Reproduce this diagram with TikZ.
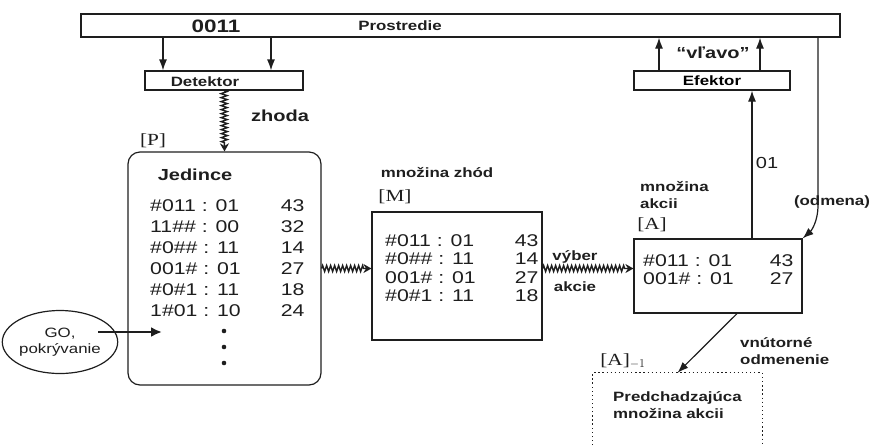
\documentclass[tikz,border=0pt]{standalone}
\usepackage{fontspec}
\setmainfont{Liberation Sans}[FakeStretch=1.25]
\newfontfamily\brfont{Liberation Serif}[FakeStretch=1.25]
\usetikzlibrary{arrows.meta,positioning,calc,decorations.pathmorphing,shapes.geometric}
\definecolor{ink}{HTML}{1E1E1E}
\newcommand{\labsz}{\fontsize{13.5}{16.5}\selectfont\bfseries}
\newcommand{\bigsz}{\fontsize{16}{18}\selectfont\bfseries}
\tikzset{
  box/.style={draw=ink, line width=1.2pt, inner sep=0pt},
  lab/.style={font=\labsz, text=ink, inner sep=0pt, align=left},
  big/.style={font=\bigsz, text=ink, inner sep=0pt},
  brk/.style={font=\brfont\fontsize{17}{20}\selectfont, text=ink, inner sep=0pt},
  rows/.style={text=ink, inner sep=0pt, anchor=north west},
  arr/.style={-{Latex[length=11pt,width=8pt]}, line width=1.2pt, draw=ink},
  wavy/.style={-{Stealth[length=8pt,width=9pt]}, line width=1.4pt, draw=ink, decorate,
               decoration={zigzag, segment length=4pt, amplitude=3pt, post length=7pt}},
  dotbox/.style={draw=ink, line width=1.3pt, dash pattern=on 1.3pt off 2.8pt}}

\begin{document}
\begin{tikzpicture}[x=1pt,y=-1pt]
  \useasboundingbox (0,0) rectangle (872,445);

  % prostredie, detektor, efektor
  \node[box, minimum width=759pt, minimum height=23pt] (env) at (460.5,25.5) {};
  \node[font=\fontsize{18}{20}\selectfont\bfseries, text=ink] (state) at (216,26) {0011};
  \node[lab] (envname) at (400,26) {Prostredie};
  \node[box, minimum width=158pt, minimum height=19pt] (det) at (224,80.5) {};
  \node[lab] (detname) at (205,82) {Detektor};
  \node[box, minimum width=156pt, minimum height=19pt, font=\labsz] (eff) at (712,80.5) {Efektor};
  \node[big] (cmd) at (713,53) {``vľavo''};
  \foreach \dx/\nm in {-61/a,47/b} {
    \coordinate (in\nm) at ($(det.north)+(\dx,0)$);
    \draw[arr] (in\nm |- env.south) -- (in\nm);
  }
  \foreach \dx/\nm in {-53/a,48/b} {
    \coordinate (out\nm) at ($(eff.north)+(\dx,0)$);
    \draw[arr] (out\nm) -- (out\nm |- env.south);
  }

  % populacia [P]
  \node[box, rounded corners=12pt, minimum width=193pt, minimum height=233pt] (pbox) at (224.5,268.5) {};
  \node[brk] (plab) at (153,141) {[P]};
  \node[big] (ptitle) at (195,175) {Jedince};
  \node[rows, font=\fontsize{17}{21}\selectfont] (prows) at (150,196.3) {%
    \begin{tabular}{@{}l@{\hspace{40pt}}r@{}}
      \#011 : 01 & 43\\ 11\#\# : 00 & 32\\ \#0\#\# : 11 & 14\\
      001\# : 01 & 27\\ \#0\#1 : 11 & 18\\ 1\#01 : 10 & 24
    \end{tabular}};
  \foreach \y in {331,347,363} \fill[ink] (224,\y) circle (2.3);
  \node[big] (zh) at (280,116) {zhoda};
  \draw[wavy] (det.south) -- (pbox.north);

  % GO
  \node[ellipse, draw=ink, line width=1.2pt, minimum width=96pt, minimum height=63pt, inner sep=0pt,
        font=\fontsize{13.5}{16.5}\selectfont, text=ink, align=center] (go) at (60,342) {GO,\\pokrývanie};
  \coordinate (goin) at (162,332);
  \draw[-{Latex[length=11pt,width=10pt]}, line width=2.4pt, draw=ink] ($(go.east)+(-20,-10)$) -- (goin);

  % mnozina zhod [M]
  \node[box, minimum width=170pt, minimum height=128pt] (mset) at (457,276) {};
  \node[lab] (mtitle) at (437,173) {množina zhód};
  \node[brk] (mlab) at (395,197) {[M]};
  \node[rows, font=\fontsize{17}{18.5}\selectfont] (mrows) at (385,233) {%
    \begin{tabular}{@{}l@{\hspace{39pt}}r@{}}
      \#011 : 01 & 43\\ \#0\#\# : 11 & 14\\ 001\# : 01 & 27\\ \#0\#1 : 11 & 18
    \end{tabular}};
  \draw[wavy] (pbox.east) -- (pbox.east -| mset.west);

  % mnozina akcii [A]
  \node[box, minimum width=168pt, minimum height=74pt] (act) at (718,276) {};
  \node[lab, anchor=west] (atitle) at (640,195) {množina\\akcii};
  \node[brk] (alab) at (652,225) {[A]};
  \node[rows, font=\fontsize{17}{18.5}\selectfont] (arows) at (643,253) {%
    \begin{tabular}{@{}l@{\hspace{36pt}}r@{}}
      \#011 : 01 & 43\\ 001\# : 01 & 27
    \end{tabular}};
  \node[lab] (sel1) at (575,257) {výber};
  \node[lab] (sel2) at (575,287) {akcie};
  \draw[wavy] (mset.east |- pbox.east) -- (act.west |- pbox.east);

  % akcia do efektora, odmena
  \coordinate (outc) at ($(act.north)+(34,0)$);
  \draw[arr] (outc) -- (outc |- eff.south);
  \node[font=\fontsize{16}{18}\selectfont, text=ink] (sig) at (767,163) {01};
  \coordinate (bend) at (818,205);
  \draw[arr] (env.south -| bend) -- (bend) .. controls (818,222) and (811,231) .. (act.north east);
  \node[lab] (rew) at (832,202) {(odmena)};

  % predchadzajuca mnozina [A]_-1
  \node[minimum width=169pt, minimum height=72pt, inner sep=0pt] (prev) at (677.5,409) {};
  \draw[dotbox] (prev.south west) -- (prev.north west) -- (prev.north east) -- (prev.south east);
  \node[lab, anchor=west] (prevtxt) at (613,405) {Predchadzajúca\\množina akcii};
  \node[brk] (prevlab) at (623,361) {[A]$_{-1}$};
  \draw[arr] ($(act.south)+(19,0)$) -- (prev.north);
  \node[lab, anchor=west] (inner) at (740,351) {vnútorné\\odmenenie};
\end{tikzpicture}
\end{document}
